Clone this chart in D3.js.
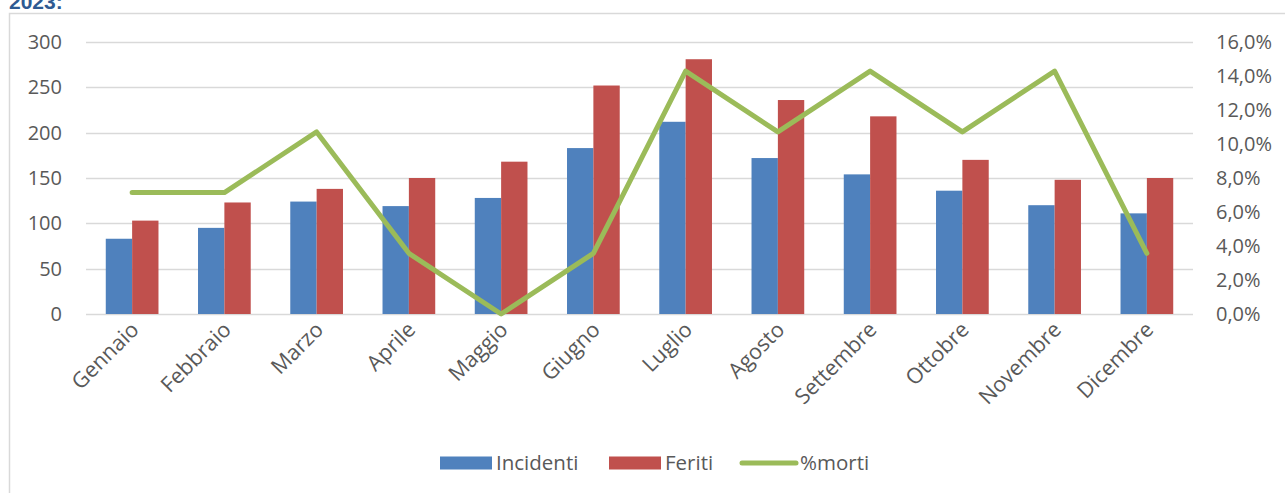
<!DOCTYPE html>
<html>
<head>
<meta charset="utf-8">
<script src="https://cdn.jsdelivr.net/npm/d3@7"></script>
<style>
  body { margin: 0; background: #fff; }
  svg { display: block; font-family: "Open Sans", sans-serif; }
</style>
</head>
<body>
<svg id="chart" width="1285" height="493"></svg>
<script>
// data
const months = ["Gennaio", "Febbraio", "Marzo", "Aprile", "Maggio", "Giugno",
  "Luglio", "Agosto", "Settembre", "Ottobre", "Novembre", "Dicembre"];
const incidenti = [83, 95, 124, 119, 128, 183, 212, 172, 154, 136, 120, 111];
const feriti = [103, 123, 138, 150, 168, 252, 281, 236, 218, 170, 148, 150];
const morti = [0.0714, 0.0714, 0.1071, 0.0357, 0, 0.0357, 0.1429, 0.1071, 0.1429, 0.1071, 0.1429, 0.0357];
const seriesNames = ["Incidenti", "Feriti"];
const leftTicks = [0, 50, 100, 150, 200, 250, 300];
const rightTicks = [0, 0.02, 0.04, 0.06, 0.08, 0.10, 0.12, 0.14, 0.16];

const colors = { Incidenti: "#4F81BD", Feriti: "#C0504D", morti: "#9BBB59" };
const textColor = "#595959";
const gridColor = "#d9d9d9";

const svg = d3.select("#chart");

// title cut at the top (as in the source), and chart frame
svg.append("text")
  .attr("x", 9).attr("y", 9)
  .attr("fill", "#2E5A92")
  .attr("font-weight", "bold")
  .attr("font-size", 21)
  .attr("font-family", "Liberation Sans, sans-serif")
  .text("2023:");

svg.append("rect")
  .attr("x", 9.5).attr("y", 13.5)
  .attr("width", 1400).attr("height", 600)
  .attr("fill", "none")
  .attr("stroke", gridColor)
  .attr("stroke-width", 1.5);

const plot = { left: 86, right: 1193, top: 42, bottom: 314 };

const x = d3.scaleBand().domain(months).range([plot.left, plot.right]);
const x1 = d3.scaleBand().domain(seriesNames).range([0, x.bandwidth()]).paddingOuter(0.75);
const yL = d3.scaleLinear().domain([0, 300]).range([plot.bottom, plot.top]);
const yR = d3.scaleLinear().domain([0, 0.16]).range([plot.bottom, plot.top]);

// gridlines
svg.append("g")
  .selectAll("line")
  .data(leftTicks)
  .join("line")
  .attr("x1", plot.left).attr("x2", plot.right)
  .attr("y1", d => Math.round(yL(d)) + 0.5)
  .attr("y2", d => Math.round(yL(d)) + 0.5)
  .attr("stroke", gridColor)
  .attr("stroke-width", 1.5);

// bars
const rows = months.map((m, i) => ({ month: m, Incidenti: incidenti[i], Feriti: feriti[i] }));
svg.append("g")
  .selectAll("g")
  .data(rows)
  .join("g")
  .attr("transform", d => `translate(${x(d.month)},0)`)
  .selectAll("rect")
  .data(d => seriesNames.map(k => ({ key: k, value: d[k] })))
  .join("rect")
  .attr("x", d => x1(d.key))
  .attr("width", x1.bandwidth())
  .attr("y", d => yL(d.value))
  .attr("height", d => yL(0) - yL(d.value))
  .attr("fill", d => colors[d.key]);

// line on the right axis
const line = d3.line()
  .x((d, i) => x(months[i]) + x.bandwidth() / 2)
  .y(d => yR(d));

svg.append("path")
  .datum(morti)
  .attr("d", line)
  .attr("fill", "none")
  .attr("stroke", colors.morti)
  .attr("stroke-width", 5)
  .attr("stroke-linejoin", "round")
  .attr("stroke-linecap", "round");

// axes (text only)
const axL = svg.append("g")
  .attr("transform", `translate(${plot.left - 24},0)`)
  .call(d3.axisLeft(yL).tickValues(leftTicks).tickSize(0).tickPadding(0));
const pct = d => d3.format(".1f")(d * 100).replace(".", ",") + "%";
const axR = svg.append("g")
  .attr("transform", `translate(${plot.right + 23},0)`)
  .call(d3.axisRight(yR).tickValues(rightTicks).tickSize(0).tickPadding(0).tickFormat(pct));

const axX = svg.append("g")
  .attr("transform", `translate(0,${plot.bottom})`)
  .call(d3.axisBottom(x).tickSize(0).tickPadding(0));

[axL, axR, axX].forEach(a => {
  a.select(".domain").remove();
  a.selectAll("text")
    .attr("fill", textColor)
    .attr("font-size", 20)
    .attr("font-family", "Open Sans, sans-serif");
});
axX.selectAll("text")
  .attr("text-anchor", "end")
  .attr("dy", 0)
  .attr("font-size", 21.5)
  .attr("transform", "translate(8,17) rotate(-45)");

// legend
const legend = svg.append("g").attr("transform", "translate(0,463)");
const items = [
  { name: "Incidenti", x: 440, type: "rect", color: colors.Incidenti },
  { name: "Feriti", x: 609, type: "rect", color: colors.Feriti },
  { name: "%morti", x: 742, type: "line", color: colors.morti }
];
items.forEach(it => {
  if (it.type === "rect") {
    legend.append("rect")
      .attr("x", it.x).attr("y", -6.5)
      .attr("width", 52).attr("height", 13)
      .attr("fill", it.color);
  } else {
    legend.append("line")
      .attr("x1", it.x).attr("x2", it.x + 54)
      .attr("y1", 0).attr("y2", 0)
      .attr("stroke", it.color)
      .attr("stroke-width", 5)
      .attr("stroke-linecap", "round");
  }
  legend.append("text")
    .attr("x", it.type === "rect" ? it.x + 56 : it.x + 58)
    .attr("y", 0)
    .attr("dy", "0.35em")
    .attr("fill", textColor)
    .attr("font-size", 20.5)
    .text(it.name);
});
</script>
</body>
</html>
